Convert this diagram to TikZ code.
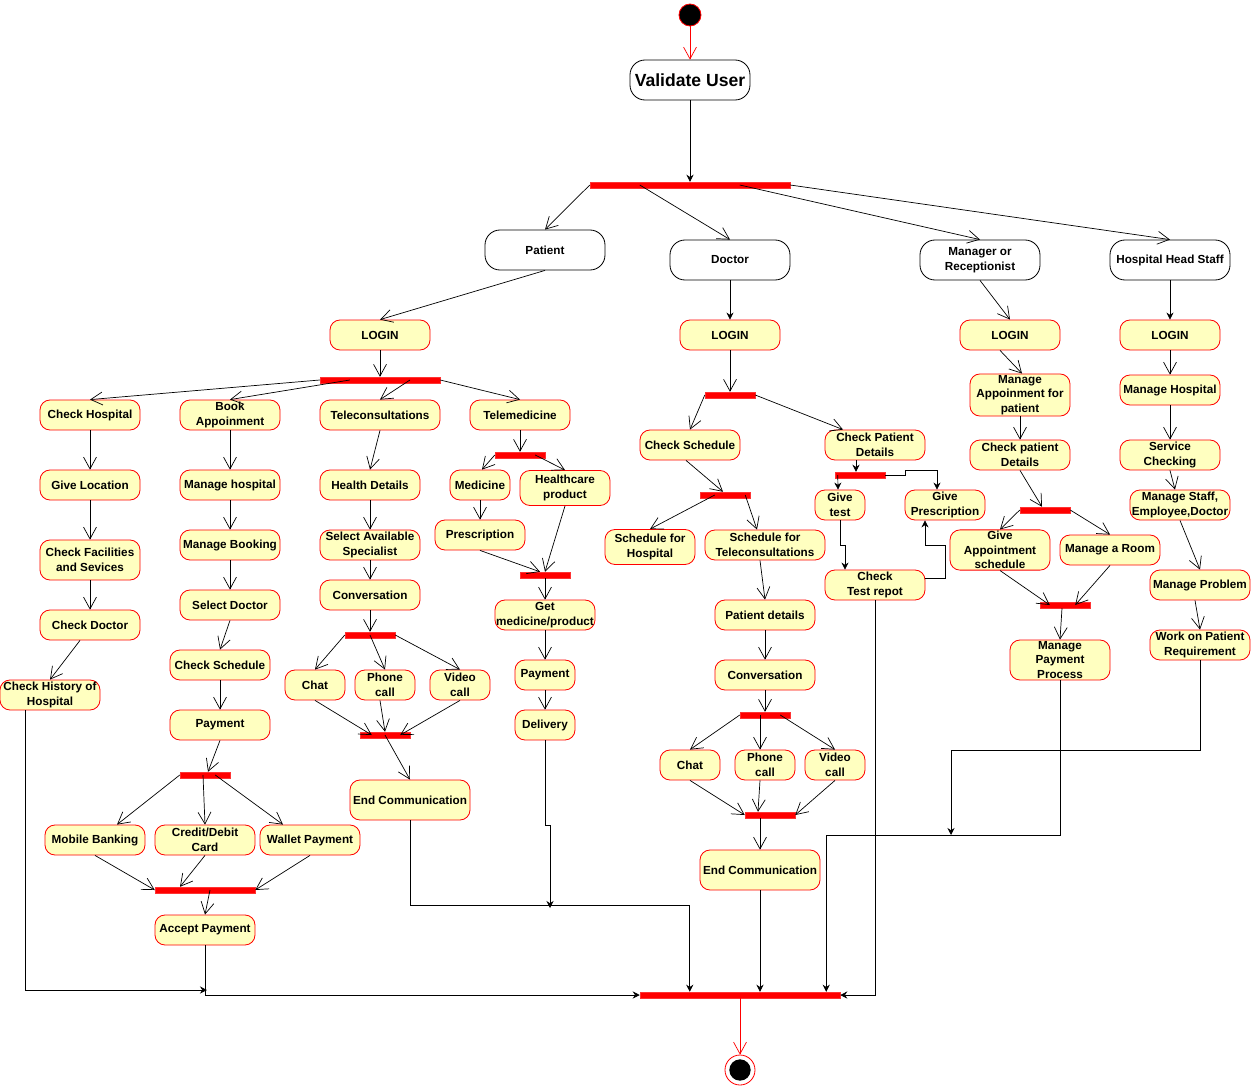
\documentclass[tikz,border=0pt]{standalone}
\usepackage{fontspec}
\setmainfont{Liberation Sans}
\usepackage{tikz}
\usetikzlibrary{arrows.meta,calc,positioning}
\definecolor{actfill}{HTML}{FFFFC0}

\begin{document}
\begin{tikzpicture}[x=0.03cm, y=-0.03cm,
  act/.style={draw=red, line width=0.7pt, fill=actfill, rounded corners=0.3cm, minimum width=3cm, minimum height=0.9cm,
    inner sep=1pt, align=center, font=\fontsize{10}{12.5}\selectfont\bfseries},
  actor/.style={draw, line width=0.7pt, fill=white, rounded corners=0.45cm, minimum width=3.6cm, minimum height=1.2cm,
    inner sep=1pt, align=center, font=\fontsize{10}{12.5}\selectfont\bfseries},
  bar/.style={fill=red, draw=red!80!white, inner sep=0pt, minimum height=0.18cm, minimum width=1.5cm},
  flow/.style={-{Straight Barb[length=10pt,width=11pt]}, line width=0.6pt},
  link/.style={-{Stealth[length=6pt,width=6pt]}, line width=0.6pt}]

\useasboundingbox (0,0) rectangle (1251,1086);

% Start
\node[circle, fill=black, draw=red, line width=0.7pt, minimum size=0.66cm, inner sep=0pt] (start) at (690,15) {};
\node[actor, font=\fontsize{15}{17}\selectfont\bfseries] (val) at (690,80) {Validate User};
\node[bar, minimum width=6cm] (b1) at (690,185) {};

% Users
\node[actor] (pat) at (545,250) {Patient};
\node[actor] (doc) at (730,260) {Doctor};
\node[actor] (mgr) at (980,260) {Manager or\\Receptionist};
\node[actor] (hhs) at (1170,260) {Hospital Head Staff};

% Patient
\node[act] (login1) at (380,335) {LOGIN};
\node[bar, minimum width=3.6cm] (b2) at (380,380) {};
\node[act] (chkhosp) at (90,415) {Check Hospital};
\node[act] (book) at (230,415) {Book\\Appoinment};
\node[act, minimum width=3.6cm] (tcons) at (380,415) {Teleconsultations};
\node[act] (tmed) at (520,415) {Telemedicine};

\node[act] (giveloc) at (90,485) {Give Location};
\node[act, minimum height=1.2cm] (chkfac) at (90,560) {Check Facilities\\and Sevices};
\node[act] (chkdoc) at (90,625) {Check Doctor};
\node[act] (hist) at (50,695) {Check History of\\Hospital};

\node[act] (mhosp) at (230,485) {Manage hospital};
\node[act] (mbook) at (230,545) {Manage Booking};
\node[act] (seldoc) at (230,605) {Select Doctor};
\node[act] (chksch) at (220,665) {Check Schedule};
\node[act] (pay) at (220,725) {Payment};
\node[bar] (b3) at (205,775) {};
\node[act] (mob) at (95,840) {Mobile Banking};
\node[act] (cred) at (205,840) {Credit/Debit\\Card};
\node[act] (wal) at (310,840) {Wallet Payment};
\node[bar, minimum width=3cm] (b4) at (205,890) {};
\node[act] (acc) at (205,930) {Accept Payment};

\node[act] (hdet) at (370,485) {Health Details};
\node[act] (spec) at (370,545) {Select Available\\Specialist};
\node[act] (conv1) at (370,595) {Conversation};
\node[bar] (b5) at (370,635) {};
\node[act, minimum width=1.8cm] (chat1) at (315,685) {Chat};
\node[act, minimum width=1.8cm] (phone1) at (385,685) {Phone\\call};
\node[act, minimum width=1.8cm] (video1) at (460,685) {Video\\call};
\node[bar] (b6) at (385,735) {};
\node[act, minimum width=3.6cm, minimum height=1.2cm] (endc1) at (410,800) {End Communication};

\node[bar] (b7) at (520,455) {};
\node[act, minimum width=1.8cm] (medi) at (480,485) {Medicine};
\node[act, minimum width=2.7cm, minimum height=1.05cm] (hcp) at (565,488) {Healthcare\\product};
\node[act, minimum width=2.7cm] (presc) at (480,535) {Prescription};
\node[bar] (b8) at (545,575) {};
\node[act] (getmed) at (545,615) {Get\\medicine/product};
\node[act, minimum width=1.8cm] (pay2) at (545,675) {Payment};
\node[act, minimum width=1.8cm] (deliv) at (545,725) {Delivery};

% Doctor
\node[act] (login2) at (730,335) {LOGIN};
\node[bar] (b9) at (730,395) {};
\node[act] (chksch2) at (690,445) {Check Schedule};
\node[act] (cpd) at (875,445) {Check Patient\\Details};
\node[bar] (b10) at (725,495) {};
\node[act, minimum width=2.7cm, minimum height=1.05cm] (sfh) at (650,547) {Schedule for\\Hospital};
\node[act, minimum width=3.6cm] (sft) at (765,545) {Schedule for\\Teleconsultations};
\node[act] (pdet) at (765,615) {Patient details};
\node[act] (conv2) at (765,675) {Conversation};
\node[bar] (b11) at (765,715) {};
\node[act, minimum width=1.8cm] (chat2) at (690,765) {Chat};
\node[act, minimum width=1.8cm] (phone2) at (765,765) {Phone\\call};
\node[act, minimum width=1.8cm] (video2) at (835,765) {Video\\call};
\node[bar] (b12) at (770,815) {};
\node[act, minimum width=3.6cm, minimum height=1.2cm] (endc2) at (760,870) {End Communication};

\node[bar] (b13) at (860,475) {};
\node[act, minimum width=1.5cm] (gtest) at (840,505) {Give\\test};
\node[act, minimum width=2.4cm] (gpres) at (945,505) {Give\\Prescription};
\node[act] (ctest) at (875,585) {Check\\Test repot};

% Manager
\node[act] (login3) at (1010,335) {LOGIN};
\node[act, minimum height=1.2cm] (mapp) at (1020,395) {Manage\\Appoinment for\\patient};
\node[act] (cpd2) at (1020,455) {Check patient\\Details};
\node[bar] (b14) at (1045,510) {};
\node[act, minimum height=1.2cm] (gas) at (1000,550) {Give\\Appointment\\schedule};
\node[act] (room) at (1110,550) {Manage a Room};
\node[bar] (b15) at (1065,605) {};
\node[act, minimum height=1.2cm] (mpp) at (1060,660) {Manage\\Payment\\Process};

% Head staff
\node[act] (login4) at (1170,335) {LOGIN};
\node[act] (mhosp2) at (1170,390) {Manage Hospital};
\node[act] (serv) at (1170,455) {Service\\Checking};
\node[act] (mstaff) at (1180,505) {Manage Staff,\\Employee,Doctor};
\node[act] (mprob) at (1200,585) {Manage Problem};
\node[act] (work) at (1200,645) {Work on Patient\\Requirement};

% End
\node[bar, minimum width=6cm] (bend) at (740,995) {};
\node[circle, draw=red, line width=0.7pt, fill=white, minimum size=0.9cm, inner sep=0pt] (stop) at (740,1070) {};
\node[circle, fill=black, minimum size=0.64cm, inner sep=0pt] (stopdot) at (stop) {};

\coordinate (m1) at (207,990);
\coordinate (m2) at (550,908);
\coordinate (m3) at (951,835);

% Top flow
\draw[red, flow] (start) -- (val);
\draw[link] (val) -- (b1);
\draw[flow] (b1.west) -- (pat.north);
\draw[flow] ($(b1.west)+(50,0)$) -- (doc.north);
\draw[flow] ($(b1.west)+(150,0)$) -- (mgr.north);
\draw[flow] (b1.east) -- (hhs.north);

% Patient flow
\draw[flow] (pat.south) -- (login1.north);
\draw[flow] (login1) -- (b2);
\draw[flow] (b2.west) -- (chkhosp.north);
\draw[flow] ($(b2.west)+(30,0)$) -- (book.north);
\draw[flow] ($(b2.center)+(30,0)$) -- (tcons.north);
\draw[flow] (b2.east) -- (tmed.north);
\draw[flow] (chkhosp) -- (giveloc);
\draw[flow] (giveloc) -- (chkfac);
\draw[flow] (chkfac) -- (chkdoc);
\draw[flow] ($(chkdoc.south)+(-10,0)$) -- (hist.north);

\draw[flow] (book) -- (mhosp);
\draw[flow] (mhosp) -- (mbook);
\draw[flow] (mbook) -- (seldoc);
\draw[flow] (seldoc.south) -- (chksch.north);
\draw[flow] (chksch) -- (pay);
\draw[flow] (pay.south) -- ($(b3.north)+(3,0)$);
\draw[flow] (b3.west) -- ($(mob.north)+(22,0)$);
\draw[flow] ($(b3.center)+(-2,0)$) -- (cred.north);
\draw[flow] ($(b3.east)+(-15,0)$) -- ($(wal.north)+(-27,0)$);
\draw[flow] (mob.south) -- (b4.west);
\draw[flow] (cred.south) -- ($(b4.north)+(-25,0)$);
\draw[flow] (wal.south) -- (b4.east);
\draw[flow] ($(b4.center)+(5,0)$) -- (acc.north);

\draw[flow] (tcons.south) -- (hdet.north);
\draw[flow] (hdet) -- (spec);
\draw[flow] (spec) -- (conv1);
\draw[flow] (conv1) -- (b5);
\draw[flow] (b5.west) -- (chat1.north);
\draw[flow] (b5.center) -- (phone1.north);
\draw[flow] (b5.east) -- (video1.north);
\draw[flow] (chat1.south) -- ($(b6.west)+(12,0)$);
\draw[flow] ($(phone1.south)+(-5,0)$) -- (b6.north);
\draw[flow] (video1.south) -- ($(b6.east)+(-10,0)$);
\draw[flow] (b6.center) -- (endc1.north);

\draw[flow] (tmed) -- (b7);
\draw[flow] (b7.west) -- ($(medi.north)+(2,0)$);
\draw[flow] ($(b7.east)+(-10,0)$) -- (hcp.north);
\draw[flow] (medi) -- (presc);
\draw[flow] (presc.south) -- ($(b8.north)+(-5,0)$);
\draw[flow] (hcp.south) -- (b8.north);
\draw[flow] (b8) -- (getmed);
\draw[flow] (getmed) -- (pay2);
\draw[flow] (pay2) -- (deliv);

% Doctor flow
\draw[link] (doc) -- (login2);
\draw[flow] (login2) -- (b9);
\draw[flow] (b9.west) -- (chksch2.north);
\draw[flow] (b9.east) -- ($(cpd.north)+(-32,0)$);
\draw[flow] ($(chksch2.south)+(-4,0)$) -- ($(b10.north)+(-2,0)$);
\draw[flow] ($(b10.west)+(15,0)$) -- (sfh.north);
\draw[flow] ($(b10.east)+(-5,0)$) -- ($(sft.north)+(-8,0)$);
\draw[flow] ($(sft.south)+(-5,0)$) -- (pdet.north);
\draw[flow] (pdet) -- (conv2);
\draw[flow] (conv2) -- (b11);
\draw[flow] (b11.west) -- (chat2.north);
\draw[flow] ($(b11.center)+(-5,0)$) -- ($(phone2.north)+(-5,0)$);
\draw[flow] ($(b11.east)+(-10,0)$) -- (video2.north);
\draw[flow] (chat2.south) -- (b12.west);
\draw[flow] ($(phone2.south)+(-5,0)$) -- ($(b12.north)+(-12,0)$);
\draw[flow] (video2.south) -- (b12.east);
\draw[flow] ($(b12.south)+(-10,0)$) -- (endc2.north);

\draw[link] ($(cpd.south)+(-19,0)$) -- ($(b13.north)+(-4,0)$);
\draw[link] ($(b13.west)+(3,0)$) -- ($(gtest.north)+(-2,0)$);
\draw[link] (b13.east) -- ++(20,0) -- ++(0,-5) -| ($(gpres.north)+(-8,0)$);
\draw[link] (gtest.south) -- ++(0,25) -| ($(ctest.north)+(-30,0)$);
\draw[link] ($(ctest.east)+(0,-7)$) -- ++(20,0) -- ++(0,-33) -| ($(gpres.south)+(-20,0)$);

% Manager flow
\draw[flow] (mgr.south) -- (login3.north);
\draw[flow] ($(login3.south)+(-10,0)$) -- ($(mapp.north)+(2,0)$);
\draw[flow] (mapp) -- (cpd2);
\draw[flow] (cpd2.south) -- ($(b14.north)+(-3,0)$);
\draw[flow] (b14.west) -- (gas.north);
\draw[flow] (b14.east) -- (room.north);
\draw[flow] (gas.south) -- ($(b15.west)+(10,0)$);
\draw[flow] (room.south) -- ($(b15.east)+(-15,0)$);
\draw[flow] ($(b15.south)+(-3,0)$) -- (mpp.north);

% Head staff flow
\draw[link] (hhs) -- (login4);
\draw[flow] (login4) -- (mhosp2);
\draw[flow] (mhosp2) -- (serv);
\draw[flow] (serv.south) -- ($(mstaff.north)+(-5,0)$);
\draw[flow] (mstaff.south) -- (mprob.north);
\draw[flow] ($(mprob.south)+(-5,0)$) -- (work.north);

% Join
\draw[link] ($(hist.south)+(-25,0)$) |- (m1);
\draw[link] (acc.south) |- (bend.west);
\draw[link] (endc1.south) -- ++(0,85) -| ($(bend.north west)+(50,0)$);
\draw[link] (deliv.south) -- ++(0,85) -| (m2);
\draw[link] (endc2.south) -- (endc2.south |- bend.north);
\draw[link] (ctest.south) |- (bend.east);
\draw[link] (mpp.south) -- ++(0,155) -| ($(bend.north east)+(-14,0)$);
\draw[link] (work.south) -- ++(0,90) -| (m3);
\draw[red, flow] (bend) -- (stop);

\end{tikzpicture}
\end{document}
